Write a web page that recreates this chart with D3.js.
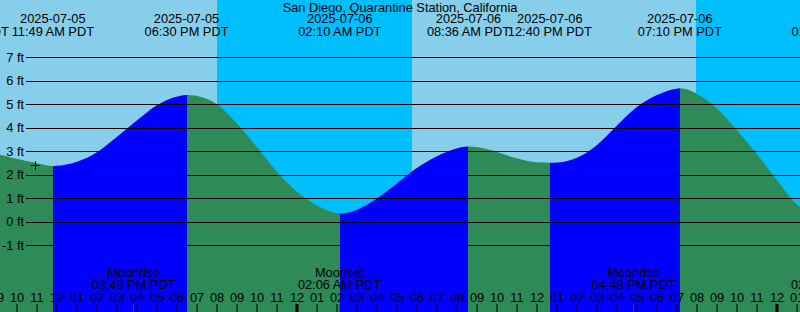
<!DOCTYPE html>
<html>
<head>
<meta charset="utf-8">
<script src="https://cdn.jsdelivr.net/npm/d3@7"></script>
<style>
  body { margin: 0; background: #fff; }
  text { font-family: "Liberation Sans", Arial, sans-serif; font-size: 12.8px; fill: #000; }
</style>
</head>
<body>
<script>
var stationName = "San Diego, Quarantine Station, California";

// high / low tides
var extremeTimes = ["2025-07-05 07:32", "2025-07-05 11:49", "2025-07-05 18:30", "2025-07-06 02:10",
                    "2025-07-06 08:36", "2025-07-06 12:40", "2025-07-06 19:10", "2025-07-07 02:50"];
var extremeHeights = [2.95, 2.37, 5.40, 0.35, 3.20, 2.51, 5.68, 0.05];

// hourly heights, from 2025-07-05 09:00
var hourlyStart = "2025-07-05 09:00";
var hourlyHeights = [2.88, 2.68, 2.50, 2.38, 2.55, 2.95, 3.60, 4.30, 4.95, 5.32, 5.36, 5.01, 4.20, 3.20, 2.15,
                     1.30, 0.70, 0.37, 0.50, 0.98, 1.62, 2.28, 2.78, 3.12, 3.18, 2.98, 2.70, 2.53, 2.52,
                     2.72, 3.25, 4.08, 4.87, 5.38, 5.66, 5.46, 4.83, 3.92, 2.90, 1.80, 0.75];

var nightStarts = ["2025-07-05 20:01", "2025-07-06 19:58"];
var nightEnds = ["2025-07-06 05:46", "2025-07-07 05:47"];

var moonTimes = ["2025-07-05 15:49", "2025-07-06 02:06", "2025-07-06 16:48", "2025-07-07 02:46"];
var moonEvents = ["Moonrise", "Moonset", "Moonrise", "Moonset"];

var footTicks = [-1, 0, 1, 2, 3, 4, 5, 6, 7];

var markTime = "2025-07-05 10:54";
var markHeight = 2.42;

var w = 800;
var h = 312;

var parse = d3.timeParse("%Y-%m-%d %H:%M");
var fmtDate = d3.timeFormat("%Y-%m-%d");
var fmtTime = d3.timeFormat("%I:%M %p PDT");

var start = new Date(2025, 6, 5, 9, 10, 30);
var end = new Date(2025, 6, 7, 1, 10, 30);

var x = d3.scaleTime().domain([start, end]).range([0, w]);
var y = d3.scaleLinear().domain([-1, 7]).range([245.3, 57.3]);

var svg = d3.select("body")
  .append("svg")
  .attr("width", w)
  .attr("height", h);

// sky
svg.append("rect")
  .attr("width", w)
  .attr("height", h)
  .attr("fill", "#87ceeb");

svg.selectAll("rect.night")
  .data(nightStarts)
  .enter()
  .append("rect")
  .attr("class", "night")
  .attr("x", d => Math.round(x(parse(d))))
  .attr("width", (d, i) => Math.round(x(parse(nightEnds[i]))) - Math.round(x(parse(d))))
  .attr("y", 0)
  .attr("height", h)
  .attr("fill", "#00bfff");

// tide curve
var ext = extremeTimes.map((t, i) => ({ t: parse(t), v: extremeHeights[i] }));
var t0 = parse(hourlyStart);
var pts = hourlyHeights.map((v, i) => ({ t: d3.timeHour.offset(t0, i), v: v }))
  .filter(p => !ext.some(e => Math.abs(e.t - p.t) < 6 * 60000))
  .concat(ext)
  .sort((a, b) => a.t - b.t);

var area = d3.area()
  .x(d => x(d.t))
  .y0(h)
  .y1(d => y(d.v))
  .curve(d3.curveMonotoneX);

var defs = svg.append("defs");
ext.forEach(function(e, i) {
  if (i == ext.length - 1) return;
  var x0 = Math.round(x(e.t)), x1 = Math.round(x(ext[i + 1].t));
  defs.append("clipPath")
    .attr("id", "seg" + i)
    .append("rect")
    .attr("x", x0).attr("y", 0)
    .attr("width", x1 - x0).attr("height", h);
  svg.append("path")
    .datum(pts)
    .attr("clip-path", "url(#seg" + i + ")")
    .attr("fill", ext[i + 1].v > e.v ? "#0000ff" : "#2e8b57")
    .attr("d", area);
});

// foot lines
svg.selectAll("line.grid")
  .data(footTicks)
  .enter()
  .append("line")
  .attr("class", "grid")
  .attr("x1", 26)
  .attr("x2", w)
  .attr("y1", d => Math.round(y(d)) + 0.5)
  .attr("y2", d => Math.round(y(d)) + 0.5)
  .attr("stroke", "#000")
  .attr("stroke-width", 1);

svg.selectAll("text.ft")
  .data(footTicks)
  .enter()
  .append("text")
  .attr("class", "ft")
  .attr("x", 24)
  .attr("y", d => y(d) + 4.5)
  .attr("text-anchor", "end")
  .text(d => d + " ft");

// plus mark
var mx = Math.round(x(parse(markTime))) + 0.5, my = Math.round(y(markHeight)) + 0.5;
svg.append("path")
  .attr("d", `M${mx - 4.5},${my}H${mx + 4.5}M${mx},${my - 4.5}V${my + 4.5}`)
  .attr("stroke", "#000")
  .attr("fill", "none");

// title
svg.append("text")
  .attr("x", w / 2)
  .attr("y", 11.5)
  .attr("text-anchor", "middle")
  .text(stationName);

// high / low labels
var hl = svg.selectAll("g.hl")
  .data(ext)
  .enter()
  .append("g")
  .attr("class", "hl")
  .attr("transform", d => `translate(${x(d.t)},0)`);
hl.append("text").attr("y", 23.3).attr("text-anchor", "middle").text(d => fmtDate(d.t));
hl.append("text").attr("y", 35.5).attr("text-anchor", "middle").text(d => fmtTime(d.t));

// hour axis, first tick just left of the edge
var hours = d3.timeHour.range(d3.timeHour.floor(start), end);
var axis = d3.axisTop(x)
  .tickValues(hours)
  .tickFormat(d3.timeFormat("%I"))
  .tickSizeInner(8)
  .tickSizeOuter(0)
  .tickPadding(2.5);

var gAxis = svg.append("g")
  .attr("transform", `translate(0,${h})`)
  .call(axis);
gAxis.select(".domain").remove();
gAxis.selectAll("text")
  .attr("font-family", null)
  .attr("font-size", null)
  .attr("fill", null);
gAxis.selectAll("line")
  .attr("stroke", "#000")
  .attr("stroke-width", d => d.getHours() == 0 ? 3 : 1);

// moon events
var moon = svg.selectAll("g.moon")
  .data(moonTimes.map((t, i) => ({ t: parse(t), e: moonEvents[i] })))
  .enter()
  .append("g")
  .attr("class", "moon")
  .attr("transform", d => `translate(${Math.round(x(d.t)) + 0.5},0)`);
moon.append("line")
  .attr("y1", h - 8).attr("y2", h)
  .attr("stroke", "#ff0000");
moon.append("text").attr("y", 277.3).attr("text-anchor", "middle").text(d => d.e);
moon.append("text").attr("y", 289.3).attr("text-anchor", "middle").text(d => fmtTime(d.t));
</script>
</body>
</html>
